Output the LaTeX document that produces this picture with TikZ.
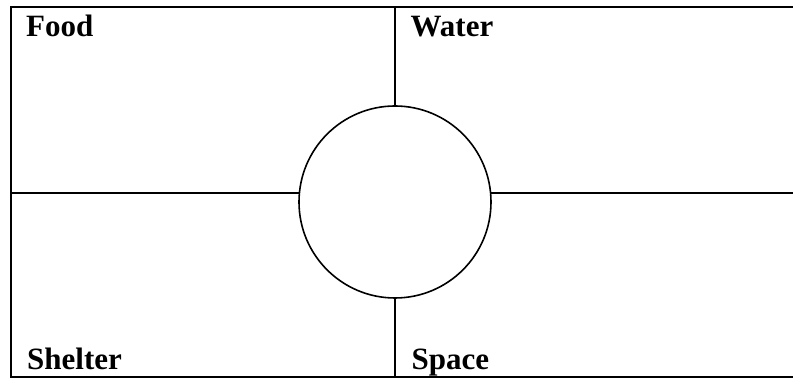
\documentclass[tikz,border=0pt]{standalone}
\usepackage{fontspec}
\setmainfont{Liberation Serif}
\begin{document}
\begin{tikzpicture}[x=1pt,y=1pt,
  frame/.style={line width=2pt,line cap=rect},
  divider/.style={line width=2pt},
  ring/.style={draw,circle,line width=1.6pt,minimum size=192pt,inner sep=0pt,outer sep=0pt},
  label/.style={anchor=base west,inner sep=0pt,font=\fontsize{31}{36}\selectfont\bfseries}]
\useasboundingbox (0,0) rectangle (793,379);
\clip (0,0) rectangle (793,379);
% frame
\coordinate (tr) at (800,372);
\coordinate (tl) at (11,372);
\coordinate (bl) at (11,2);
\coordinate (br) at (800,2);
\draw[frame] (tr) -- (tl) -- (bl) -- (br);
% circle
\node[ring] (c) at (395,177) {};
% dividers
\coordinate (lm) at (11,186);
\coordinate (rm) at (800,186);
\coordinate (tm) at (395,372);
\coordinate (bm) at (395,2);
\draw[divider] (lm) -- (lm -| c.west);
\draw[divider] (rm -| c.east) -- (rm);
\draw[divider] (tm) -- (c.north);
\draw[divider] (c.south) -- (bm);
% labels
\node[label] (food) at (26,342) {Food};
\node[label] (water) at (410.5,342) {Water};
\node[label] (shelter) at (27,9) {Shelter};
\node[label] (space) at (411.5,9) {Space};
\end{tikzpicture}
\end{document}
